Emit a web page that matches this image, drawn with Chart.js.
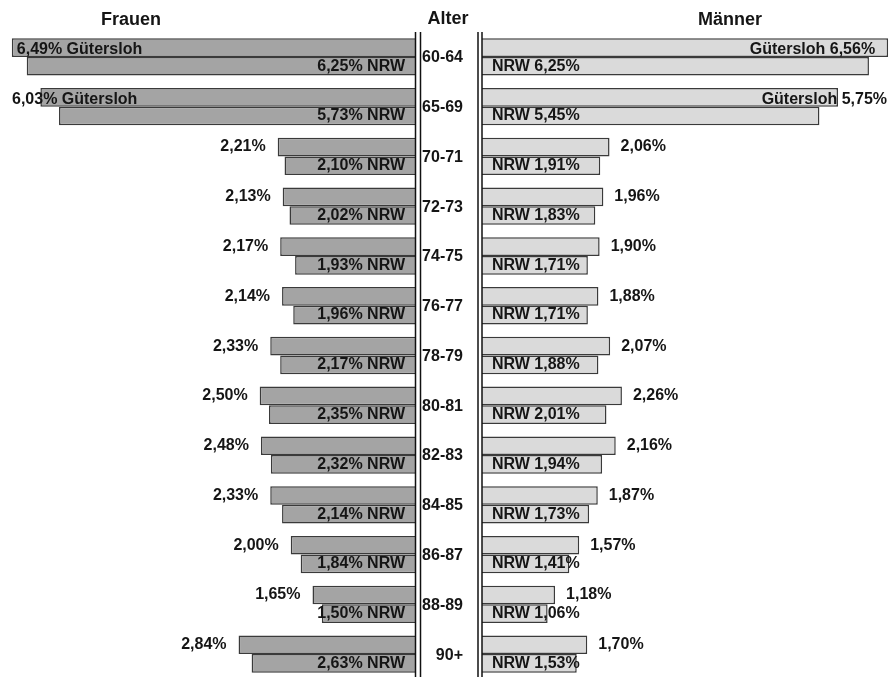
<!DOCTYPE html>
<html>
<head>
<meta charset="utf-8">
<script src="https://cdn.jsdelivr.net/npm/chart.js@4"></script>
<style>
  html, body { margin: 0; background: #fff; overflow: hidden; }
  #wrap { position: relative; width: 890px; height: 677px; overflow: hidden; }
  #leftBox { position: absolute; left: 0; top: 0; width: 477px; height: 679px; }
  #rightBox { position: absolute; left: 477px; top: 0; width: 413px; height: 679px; }
</style>
</head>
<body>
<div id="wrap">
  <div id="leftBox"><canvas id="frauenChart" width="477" height="679"></canvas></div>
  <div id="rightBox"><canvas id="maennerChart" width="413" height="679"></canvas></div>
</div>
<script>
const ages = ['60-64', '65-69', '70-71', '72-73', '74-75', '76-77', '78-79', '80-81', '82-83', '84-85', '86-87', '88-89', '90+'];
const frauenGuetersloh = [6.49, 6.03, 2.21, 2.13, 2.17, 2.14, 2.33, 2.50, 2.48, 2.33, 2.00, 1.65, 2.84];
const frauenNRW = [6.25, 5.73, 2.10, 2.02, 1.93, 1.96, 2.17, 2.35, 2.32, 2.14, 1.84, 1.50, 2.63];
const maennerGuetersloh = [6.56, 5.75, 2.06, 1.96, 1.90, 1.88, 2.07, 2.26, 2.16, 1.87, 1.57, 1.18, 1.70];
const maennerNRW = [6.25, 5.45, 1.91, 1.83, 1.71, 1.71, 1.88, 2.01, 1.94, 1.73, 1.41, 1.06, 1.53];

const FONT = 'bold 16px "Liberation Sans", Arial, sans-serif';
const TITLE_FONT = 'bold 18px "Liberation Sans", Arial, sans-serif';
const TEXT = '#151515';

const fmt = v => v.toFixed(2).replace('.', ',');

// labels, age column, titles and the double lines
const pyramidPlugin = {
  id: 'pyramid',
  afterDatasetsDraw(chart) {
    const side = chart.options.plugins.pyramid.side;
    const ctx = chart.ctx;
    const area = chart.chartArea;
    const gMeta = chart.getDatasetMeta(0).data;
    const nMeta = chart.getDatasetMeta(1).data;
    const gVals = chart.data.datasets[0].data;
    const nVals = chart.data.datasets[1].data;
    ctx.save();
    ctx.font = FONT;
    ctx.fillStyle = TEXT;
    ctx.textBaseline = 'middle';
    ctx.textAlign = 'left';

    gMeta.forEach((bar, i) => {
      const v = gVals[i];
      const y = bar.y + (v > 5 ? 2 : 0);
      if (side === 'left') {
        const txt = fmt(v) + '%' + (v > 5 ? ' Gütersloh' : '');
        const w = ctx.measureText(txt).width;
        let x = bar.x - 12 - w;
        if (x < 12) x = bar.x < 20 ? bar.x + 5 : 12;
        ctx.fillText(txt, x, y);
      } else {
        const txt = (v > 5 ? 'Gütersloh ' : '') + fmt(v) + '%';
        const w = ctx.measureText(txt).width;
        let x = bar.x + 11;
        if (x + w > chart.width - 3) {
          x = (bar.x > chart.width - 20 ? bar.x - 13 : chart.width - 3) - w;
        }
        ctx.fillText(txt, x, y);
      }
    });

    nMeta.forEach((bar, i) => {
      const v = nVals[i];
      if (side === 'left') {
        ctx.textAlign = 'right';
        ctx.fillText(fmt(v) + '% NRW', bar.base - 10, bar.y);
      } else {
        ctx.textAlign = 'left';
        ctx.fillText('NRW ' + fmt(v) + '%', bar.base + 10, bar.y);
      }
    });

    // double lines
    ctx.strokeStyle = '#111';
    ctx.lineWidth = 1.5;
    const xs = side === 'left' ? [area.right + 0.5, area.right + 5.5] : [area.left - 4, area.left];
    xs.forEach(x => {
      ctx.beginPath();
      ctx.moveTo(x, 32);
      ctx.lineTo(x, chart.height);
      ctx.stroke();
    });

    ctx.textAlign = 'center';
    ctx.font = TITLE_FONT;
    if (side === 'left') {
      ctx.fillText('Frauen', 131, 20);
      ctx.fillText('Alter', 448, 19);
      // age column
      ctx.font = FONT;
      ctx.textAlign = 'right';
      const yScale = chart.scales.y;
      ages.forEach((a, i) => {
        ctx.fillText(a, area.right + 48, yScale.getPixelForValue(i) + 1);
      });
    } else {
      ctx.fillText('Männer', 253, 20);
    }
    ctx.restore();
  }
};

function pyramidChart(id, side, gData, nData, fill, max) {
  new Chart(document.getElementById(id), {
    type: 'bar',
    data: {
      labels: ages,
      datasets: [
        { label: 'Gütersloh', data: gData, backgroundColor: fill, borderColor: '#3a3a3a', borderWidth: 1.5 },
        { label: 'NRW', data: nData, backgroundColor: fill, borderColor: '#3a3a3a', borderWidth: 1.5 }
      ]
    },
    options: {
      indexAxis: 'y',
      responsive: false,
      animation: false,
      categoryPercentage: 0.75,
      barPercentage: 1.0,
      layout: {
        padding: side === 'left' ? { top: 32, right: 62, left: 0, bottom: 0 } : { top: 32, left: 5, right: 0, bottom: 0 }
      },
      plugins: {
        legend: { display: false },
        tooltip: { enabled: false },
        pyramid: { side: side }
      },
      scales: {
        x: { display: false, min: 0, max: max, reverse: side === 'left' },
        y: { display: false }
      }
    },
    plugins: [pyramidPlugin]
  });
}

pyramidChart('frauenChart', 'left', frauenGuetersloh, frauenNRW, '#a4a4a4', 6.68);
pyramidChart('maennerChart', 'right', maennerGuetersloh, maennerNRW, '#dadada', 6.59);
</script>
</body>
</html>
